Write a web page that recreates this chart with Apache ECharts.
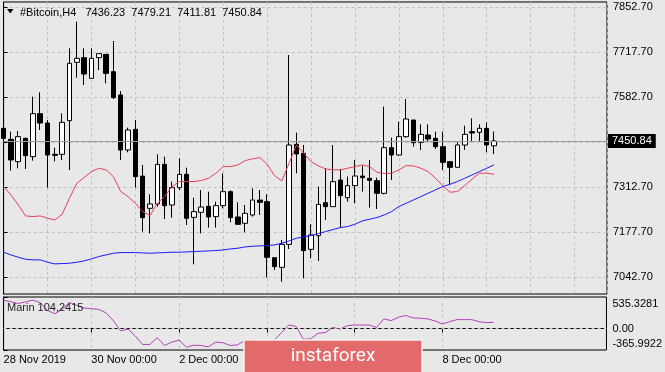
<!DOCTYPE html>
<html><head><meta charset="utf-8">
<script src="https://cdn.jsdelivr.net/npm/echarts@6/dist/echarts.min.js"></script>
<style>html,body{margin:0;padding:0;background:#e8e8e8}#c{width:665px;height:372px}</style>
</head><body><div id="c"></div>
<script>
// ---- data (H4 bars, 28 Nov 2019 00:00 onward) ----
const opens  = [7488.7,7455.7,7388.7,7458.7,7403.7,7532.7,7504.7,7410.7,7410.7,7511.7,7686.7,7700.7,7638.7,7700.7,7710.7,7658.7,7588.7,7423.7,7485.7,7345.7,7248.7,7261.7,7380.7,7258.7,7310.7,7350.7,7221.7,7236.7,7254.7,7223.7,7256.7,7298.7,7222.7,7203.7,7228.7,7273.7,7268.7,7100.7,7071.7,7140.7,7440.7,7413.7,7125.7,7166.7,7265.7,7253.7,7333.7,7280.7,7316.7,7345.7,7338.7,7331.7,7293.7,7430.7,7408.7,7463.7,7513.7,7446.7,7468.7,7458.7,7433.7,7388.7,7371.7,7438.7,7478.7,7476.7,7488.7,7436.23];
const closes = [7458.7,7393.7,7463.7,7406.7,7532.7,7504.7,7408.7,7407.7,7506.7,7683.7,7698.7,7651.7,7698.7,7712.7,7653.7,7580.7,7423.7,7483.7,7343.7,7220.7,7261.7,7380.7,7256.7,7310.7,7350.7,7218.7,7238.7,7252.7,7222.7,7256.7,7298.7,7220.7,7200.7,7233.7,7273.7,7266.7,7101.7,7073.7,7140.7,7438.7,7411.7,7121.7,7168.7,7260.7,7253.7,7328.7,7286.7,7316.7,7345.7,7340.7,7332.7,7293.7,7430.7,7408.7,7463.7,7516.7,7445.7,7470.7,7456.7,7433.7,7386.7,7371.7,7438.7,7470.7,7474.7,7488.7,7438.7,7450.84];
const lows   = [7438.7,7361.7,7368.7,7366.7,7391.7,7483.7,7310.7,7389.7,7393.7,7363.7,7640.7,7618.7,7636.7,7663.7,7623.7,7576.7,7393.7,7416.7,7310.7,7178.7,7173.7,7253.7,7216.7,7220.7,7303.7,7198.7,7080.7,7173.7,7190.7,7190.7,7248.7,7206.7,7200.7,7176.7,7223.7,7228.7,7040.7,7063.7,7028.7,7126.7,7353.7,7038.7,7098.7,7090.7,7213.7,7253.7,7190.7,7268.7,7263.7,7298.7,7250.7,7246.7,7290.7,7333.7,7406.7,7460.7,7433.7,7423.7,7446.7,7426.7,7363.7,7318.7,7371.7,7423.7,7446.7,7448.7,7416.7,7411.81];
const highs  = [7538.7,7478.7,7480.7,7460.7,7583.7,7596.7,7513.7,7430.7,7533.7,7728.7,7808.7,7728.7,7728.7,7713.7,7711.7,7750.7,7600.7,7490.7,7513.7,7378.7,7290.7,7410.7,7403.7,7328.7,7398.7,7370.7,7280.7,7303.7,7298.7,7268.7,7353.7,7302.7,7266.7,7258.7,7308.7,7303.7,7290.7,7100.7,7153.7,7708.7,7475.7,7438.7,7200.7,7313.7,7368.7,7438.7,7366.7,7343.7,7393.7,7376.7,7393.7,7340.7,7553.7,7460.7,7508.7,7576.7,7513.7,7500.7,7500.7,7478.7,7478.7,7388.7,7446.7,7496.7,7518.7,7500.7,7506.7,7479.21];
const redLine  = [7314,7289,7259,7226,7224,7226,7219,7214,7231,7279,7324,7341,7359,7369,7364,7344,7299,7284,7264,7239,7227,7264,7284,7314,7329,7329,7329,7332,7339,7354,7374,7374,7379,7392,7397,7401,7381,7347,7331,7384,7439,7414,7389,7376,7367,7364,7364,7369,7374,7379,7374,7357,7353,7354,7364,7377,7376,7369,7359,7339,7316,7297,7299,7317,7336,7354,7354,7351];
const blueLine = [7117,7109,7102,7096,7094,7094,7087,7082,7083,7084,7087,7091,7097,7104,7109,7114,7116,7116,7116,7115,7114,7115,7116,7117,7117,7118,7119,7120,7121,7122,7124,7127,7129,7133,7135,7136,7137,7139,7144,7151,7159,7163,7167,7173,7179,7185,7191,7194,7201,7211,7216,7221,7229,7239,7254,7264,7274,7284,7294,7304,7314,7321,7329,7339,7349,7359,7369,7379];
const marin = [482,453,424,453,482,441,308,250,325,441,395,348,337,325,267,134,-40,-11,-127,-272,-272,-156,-290,-232,-197,-319,-284,-290,-313,-232,-243,-290,-278,-203,-197,-214,-250,-200,-69,59,35,-185,-174,-81,-69,18,-11,47,59,59,59,18,163,134,192,221,180,174,163,128,76,116,151,151,151,116,100,104.2415];
const priceTicks = [7852.70,7717.70,7582.70,7447.70,7312.70,7177.70,7042.70];
const marinTicks = [535.3281,0,-365.9922];
const dateLabels = ['28 Nov 2019','30 Nov 00:00','2 Dec 00:00','4 Dec 00:00','6 Dec 00:00','8 Dec 00:00'];
const barsPerLabel = 12;
const symbolName = '#Bitcoin,H4';
const indicatorName = 'Marin';

// ---- build ----
const n = opens.length;
const xs = opens.map((_, i) => i);
const candleData = xs.map(i => [i, opens[i], closes[i], lows[i], highs[i]]);
const labelBars = dateLabels.map((_, k) => k * barsPerLabel);
const last = n - 1;
const FONT = 'Liberation Sans, Arial, sans-serif';
const gridLine = {show: true, lineStyle: {color: '#c2c2c2', type: [3, 3], width: 1}};
const XMAX = 82.43;

const chart = echarts.init(document.getElementById('c'), null, {renderer: 'canvas'});
chart.setOption({
  animation: false,
  backgroundColor: '#e8e8e8',
  textStyle: {fontFamily: FONT},
  grid: [
    {left: 3.6, right: 58, top: 2, height: 292, show: true, borderColor: '#000', borderWidth: 1, backgroundColor: 'transparent'},
    {left: 3.6, right: 58, top: 297, height: 53, show: true, borderColor: '#000', borderWidth: 1, backgroundColor: 'transparent'}
  ],
  xAxis: [
    {type: 'value', gridIndex: 0, min: 0, max: XMAX, interval: 6,
     axisLine: {show: false}, axisTick: {show: false}, axisLabel: {show: false}, splitLine: gridLine},
    {type: 'value', gridIndex: 1, min: 0, max: XMAX, interval: 6,
     axisLine: {show: true, lineStyle: {color: '#000'}},
     axisTick: {show: true, customValues: labelBars, length: 4, lineStyle: {color: '#000'}},
     axisLabel: {customValues: labelBars, formatter: v => dateLabels[Math.round(v / barsPerLabel)] || '',
                 align: 'left', margin: 4, color: '#000', fontSize: 11, fontFamily: FONT},
     splitLine: gridLine}
  ],
  yAxis: [
    {type: 'value', gridIndex: 0, position: 'right', min: 6991.7, max: 7867.7,
     axisLine: {show: true, lineStyle: {color: '#000'}},
     axisTick: {show: true, customValues: priceTicks, length: 4, lineStyle: {color: '#000'}},
     axisLabel: {customValues: priceTicks, formatter: v => v.toFixed(2), margin: 6, color: '#000', fontSize: 11, fontFamily: FONT},
     splitLine: gridLine},
    {type: 'value', gridIndex: 1, position: 'right', min: marinTicks[2], max: marinTicks[0],
     axisLine: {show: true, lineStyle: {color: '#000'}},
     axisTick: {show: true, customValues: marinTicks, length: 4, lineStyle: {color: '#000'}},
     axisLabel: {customValues: marinTicks, margin: 6, color: '#000', fontSize: 11, fontFamily: FONT,
       formatter: v => v === 0 ? '{z|0.00}' : (v > 0 ? '{t|' + v.toFixed(4) + '}' : '{b|' + v.toFixed(4) + '}'),
       rich: {t: {padding: [13, 0, 0, 0], fontSize: 11, color: '#000', fontFamily: FONT},
              b: {padding: [0, 0, 13, 0], fontSize: 11, color: '#000', fontFamily: FONT},
              z: {fontSize: 11, color: '#000', fontFamily: FONT}}},
     splitLine: {show: false}}
  ],
  series: [
    {type: 'candlestick', xAxisIndex: 0, yAxisIndex: 0, data: candleData, barWidth: 5,
     itemStyle: {color: '#ffffff', color0: '#000000', borderColor: '#000000', borderColor0: '#000000', borderWidth: 1},
     markLine: {silent: true, symbol: ['none', 'none'], animation: false,
       data: [{yAxis: closes[last]}],
       lineStyle: {color: '#9c9c9c', type: 'solid', width: 1},
       label: {show: true, position: 'end', formatter: closes[last].toFixed(2), color: '#fff', backgroundColor: '#000',
               padding: [2, 4, 1, 4], fontSize: 11, fontFamily: FONT, distance: 1}}},
    {type: 'line', xAxisIndex: 0, yAxisIndex: 0, data: xs.map(i => [i, redLine[i]]), showSymbol: false,
     lineStyle: {color: '#e8405c', width: 1}},
    {type: 'line', xAxisIndex: 0, yAxisIndex: 0, data: xs.map(i => [i, blueLine[i]]), showSymbol: false,
     lineStyle: {color: '#1a1aff', width: 1}},
    {type: 'line', xAxisIndex: 1, yAxisIndex: 1, data: xs.map(i => [i, marin[i]]), showSymbol: false,
     lineStyle: {color: '#b040b8', width: 1},
     markLine: {silent: true, symbol: ['none', 'none'], animation: false, data: [{yAxis: 0}],
       lineStyle: {color: '#c2c2c2', type: [3, 3], width: 1}, label: {show: false}}}
  ],
  graphic: [
    {type: 'polygon', z: 100, shape: {points: [[7, 9], [13.5, 9], [10.25, 13.5]]}, style: {fill: '#000'}},
    {type: 'text', z: 100, style: {x: 20, y: 12.5, verticalAlign: 'middle', font: '11px ' + FONT, fill: '#000',
      text: symbolName + '   ' + [opens[last], highs[last], lows[last], closes[last]].map(v => v.toFixed(2)).join('  ')}},
    {type: 'text', z: 100, style: {x: 7, y: 307.5, verticalAlign: 'middle', font: '11px ' + FONT, fill: '#222',
      text: indicatorName + ' ' + marin[last].toFixed(4).replace('.', ',')}},
    {type: 'rect', z: 100, shape: {x: 244, y: 340, width: 178, height: 34}, style: {fill: '#e36a6a', stroke: '#f2f2f2', lineWidth: 1.5}},
    {type: 'text', z: 101, style: {x: 333, y: 356, align: 'center', verticalAlign: 'middle', font: '19px Roboto', fill: '#fff', text: 'instaforex'}}
  ]
});
</script></body></html>
